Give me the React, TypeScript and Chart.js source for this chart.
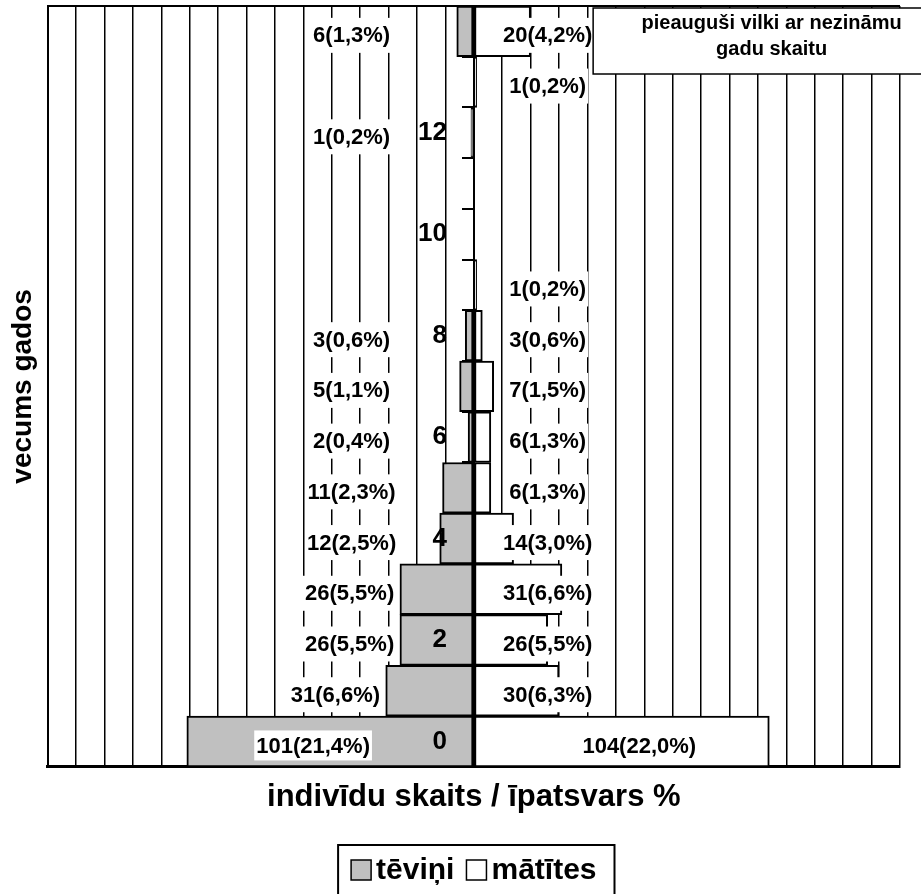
import React, { useEffect, useRef } from 'react';
import { Chart, registerables } from 'chart.js';

Chart.register(...registerables);

// ---- data ----
const ageLabels = ['0', '1', '2', '3', '4', '5', '6', '7', '8', '9', '10', '11', '12', '13', 'nezināms'];
const males = [101, 31, 26, 26, 12, 11, 2, 5, 3, 0, 0, 0, 1, 0, 6];
const females = [104, 30, 26, 31, 14, 6, 6, 7, 3, 1, 0, 0, 0, 1, 20];
const malePct = ['21,4', '6,6', '5,5', '5,5', '2,5', '2,3', '0,4', '1,1', '0,6', '', '', '', '0,2', '', '1,3'];
const femalePct = ['22,0', '6,3', '5,5', '6,6', '3,0', '1,3', '1,3', '1,5', '0,6', '0,2', '', '', '', '0,2', '4,2'];
const shownAgeTicks = ['0', '2', '4', '6', '8', '10', '12'];
const seriesNames = ['tēviņi', 'mātītes'];
const noteLines = ['pieauguši vilki ar nezināmu', 'gadu skaitu'];
const xTitle = 'indivīdu skaits / īpatsvars %';
const yTitle = 'vecums gados';

const FONT = '"Liberation Sans", Arial, sans-serif';
// gap between age tick labels and the zero line
const TICK_GAP = '\u00a0\u00a0\u00a0\u2009';

const decorPlugin = {
  id: 'decor',
  afterDraw(chart: any) {
    const { ctx, chartArea: ca, scales } = chart;
    const xs = scales.x;
    const ys = scales.y;
    ctx.save();

    // top frame line
    ctx.strokeStyle = '#000';
    ctx.lineWidth = 2;
    ctx.beginPath();
    ctx.moveTo(ca.left, ca.top);
    ctx.lineTo(ca.right, ca.top);
    ctx.stroke();

    // value labels with white boxes
    const labelSize = 22;
    ctx.font = `bold ${labelSize}px ${FONT}`;
    ctx.textAlign = 'center';
    ctx.textBaseline = 'middle';
    const unit = Math.abs(xs.getPixelForValue(1) - xs.getPixelForValue(0));
    const drawLabel = (text: string, cx: number, cy: number, inside: boolean) => {
      const w = ctx.measureText(text).width;
      const h = inside ? 30 : 35;
      ctx.fillStyle = '#fff';
      ctx.fillRect(cx - w / 2 - 2, cy - h / 2, w + 4, h);
      ctx.fillStyle = '#000';
      ctx.fillText(text, cx, cy + 1);
    };
    for (let i = 0; i < ageLabels.length; i++) {
      const cy = ys.getPixelForValue(i) + 4;
      const m = males[i];
      const f = females[i];
      if (m > 0) {
        const text = `${m}(${malePct[i]}%)`;
        const hw = ctx.measureText(text).width / 2 / unit;
        const v = m > 50 ? -m * 0.56 : Math.min(-43, -(m + hw + 2));
        drawLabel(text, xs.getPixelForValue(v), cy, m > 50);
      }
      if (f > 0) {
        const text = `${f}(${femalePct[i]}%)`;
        const v = f > 50 ? f * 0.56 : 26;
        drawLabel(text, xs.getPixelForValue(v), cy, f > 50);
      }
    }

    // note box (top right)
    const bx = xs.getPixelForValue(42);
    const by = ca.top + 2;
    const bw = 357;
    const bh = 66;
    ctx.fillStyle = '#fff';
    ctx.fillRect(bx, by, bw, bh);
    ctx.strokeStyle = '#000';
    ctx.lineWidth = 1.5;
    ctx.strokeRect(bx, by, bw, bh);
    ctx.fillStyle = '#000';
    ctx.font = `bold 20px ${FONT}`;
    ctx.fillText(noteLines[0], bx + bw / 2, by + 15);
    ctx.fillText(noteLines[1], bx + bw / 2, by + 41);

    // legend with frame
    ctx.font = `bold 30px ${FONT}`;
    ctx.textAlign = 'left';
    const sw = 20;
    const gapText = 5;
    const gapItem = 12;
    const items = chart.data.datasets.map((ds: any) => ({
      text: ds.label as string,
      fill: ds.backgroundColor as string,
      w: ctx.measureText(ds.label).width,
    }));
    const total = items.reduce((s: number, it: any) => s + sw + gapText + it.w, 0) + gapItem * (items.length - 1);
    let sx = (ca.left + ca.right) / 2 - total / 2;
    const lcy = chart.height - 24;
    ctx.strokeStyle = '#000';
    ctx.lineWidth = 2;
    ctx.strokeRect(sx - 13, chart.height - 49, total + 13 + 18, 70);
    for (const it of items) {
      ctx.fillStyle = it.fill;
      ctx.fillRect(sx, lcy - sw / 2, sw, sw);
      ctx.lineWidth = 1.5;
      ctx.strokeRect(sx, lcy - sw / 2, sw, sw);
      ctx.fillStyle = '#000';
      ctx.fillText(it.text, sx + sw + gapText, lcy + 1);
      sx += sw + gapText + it.w + gapItem;
    }
    ctx.restore();
  },
};

export default function App() {
  const ref = useRef<HTMLCanvasElement | null>(null);
  useEffect(() => {
    document.body.style.margin = '0';
    if (!ref.current) return;
    Chart.defaults.font.family = FONT;
    Chart.defaults.color = '#000';
    const chart = new Chart(ref.current, {
      type: 'bar',
      data: {
        labels: ageLabels,
        datasets: [
          {
            label: seriesNames[0],
            data: males.map((v) => -v),
            backgroundColor: '#c0c0c0',
            borderColor: '#000',
            borderWidth: 2,
            borderSkipped: false,
            barPercentage: 1,
            categoryPercentage: 1,
          },
          {
            label: seriesNames[1],
            data: females,
            backgroundColor: '#ffffff',
            borderColor: '#000',
            borderWidth: 2,
            borderSkipped: false,
            barPercentage: 1,
            categoryPercentage: 1,
          },
        ],
      },
      options: {
        indexAxis: 'y',
        responsive: false,
        animation: false,
        layout: { padding: { left: 2, right: 21, top: 6, bottom: 70 } },
        plugins: {
          legend: { display: false },
          tooltip: { enabled: false },
        },
        scales: {
          x: {
            type: 'linear',
            min: -150,
            max: 150,
            stacked: true,
            ticks: { display: false, stepSize: 10, maxTicksLimit: 100 },
            grid: { color: '#000', lineWidth: 1.5, drawTicks: false },
            border: { display: true, color: '#000', width: 3 },
            title: {
              display: true,
              text: xTitle,
              color: '#000',
              font: { size: 31, weight: 'bold', family: FONT },
              padding: { top: 12, bottom: 8 },
            },
          },
          y: {
            type: 'category',
            position: 'left',
            reverse: true,
            stacked: true,
            offset: true,
            grid: { display: false, drawTicks: false },
            ticks: { display: false },
            border: { display: true, color: '#000', width: 2 },
            title: {
              display: true,
              text: yTitle,
              color: '#000',
              font: { size: 28, weight: 'bold', family: FONT },
              padding: { top: 4, bottom: 8 },
            },
          },
          // age tick labels at the zero line (drawn above the bars)
          yc: {
            type: 'category',
            axis: 'y',
            labels: ageLabels,
            position: { x: 0 },
            reverse: true,
            offset: true,
            grid: { offset: true, drawOnChartArea: false, drawTicks: false, color: 'rgba(0,0,0,0)' },
            border: { display: true, color: '#000', width: 2, z: 1 },
            ticks: {
              z: 1,
              autoSkip: false,
              padding: 0,
              color: '#000',
              font: { size: 26, weight: 'bold', family: FONT, lineHeight: 0.4 },
              callback: (_v: any, index: number) =>
                shownAgeTicks.includes(ageLabels[index]) ? ageLabels[index] + TICK_GAP : '',
            },
          },
          // short tick marks at the zero line (under the bars)
          yt: {
            type: 'category',
            axis: 'y',
            labels: ageLabels,
            position: { x: 0 },
            reverse: true,
            offset: true,
            grid: { offset: true, drawOnChartArea: false, drawTicks: true, tickLength: 12, color: '#000', lineWidth: 2 },
            border: { display: false },
            ticks: { display: false },
          },
        },
      } as any,
      plugins: [decorPlugin],
    });
    return () => chart.destroy();
  }, []);
  return <canvas ref={ref} width={921} height={894} style={{ display: 'block' }} />;
}
